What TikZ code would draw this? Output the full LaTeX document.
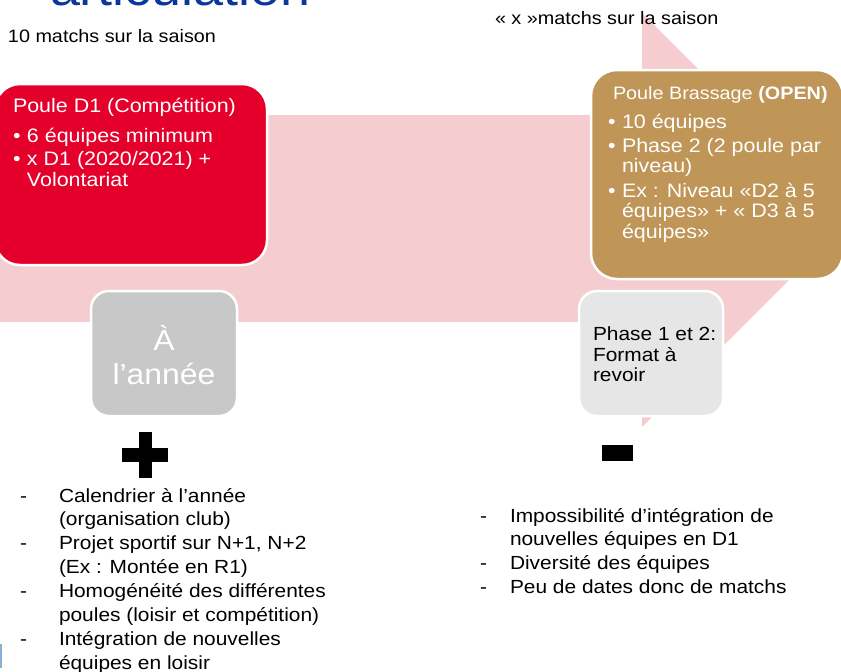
\documentclass[tikz,border=0pt]{standalone}
\usepackage{fontspec}
\setmainfont{Liberation Sans}[FakeStretch=1.1]
\definecolor{arrowpink}{RGB}{245,204,207}
\definecolor{d1red}{RGB}{228,0,43}
\definecolor{openbrown}{RGB}{191,149,88}
\definecolor{anneegray}{RGB}{200,200,200}
\definecolor{phasegray}{RGB}{230,230,230}
\definecolor{titleblue}{RGB}{10,55,155}
\definecolor{logoblue}{RGB}{140,175,210}
\begin{document}
\begin{tikzpicture}[x=1pt,y=-1pt,
  box/.style={draw=white,line width=2.5pt,inner sep=0pt,outer sep=0pt},
  ln/.style={anchor=base west,inner sep=0pt,outer sep=0pt},
  boxtxt/.style={ln,text=white,font=\fontsize{19.5}{23}\selectfont},
  plain/.style={ln,text=black,font=\fontsize{19}{23}\selectfont}]
\useasboundingbox (0,0) rectangle (841,672);
\clip (0,0) rectangle (841,672);
% big pink arrow
\fill[arrowpink] (0,115) -- (642,115) -- (642,13) -- (849,220) -- (642,427) -- (642,322) -- (0,322) -- cycle;
% title (cut off)
\node[ln,text=titleblue,font=\fontsize{49}{49}\selectfont] (title) at (50,5) {articulation};
\node[ln,font=\fontsize{18}{22}\selectfont] (left season) at (8,42) {10 matchs sur la saison};
\node[ln,font=\fontsize{18}{22}\selectfont] (right season) at (495,24) {« x »matchs sur la saison};
% boxes
\node[box,fill=d1red,minimum width=272pt,minimum height=181pt,rounded corners=25pt] (d1) at (131,174.5) {};
\node[box,fill=openbrown,minimum width=252pt,minimum height=209pt,rounded corners=26pt] (open) at (717,174.5) {};
\node[box,fill=anneegray,minimum width=146pt,minimum height=125pt,rounded corners=18pt] (annee) at (164,353.5) {};
\node[box,fill=phasegray,minimum width=144pt,minimum height=125pt,rounded corners=18pt] (phase) at (651,353.5) {};
% red box text
\node[boxtxt] (d1t) at (13,112) {Poule D1 (Compétition)};
\node[boxtxt] (d1b1) at (13,142) {•};
\node[boxtxt] (d1l1) at (27,142) {6 équipes minimum};
\node[boxtxt] (d1b2) at (13,165) {•};
\node[boxtxt] (d1l2) at (27,165) {x D1 (2020/2021) +};
\node[boxtxt] (d1l3) at (27,186) {Volontariat};
% brown box text
\node[boxtxt,font=\fontsize{18}{22}\selectfont] (opt) at (613,99) {Poule Brassage \textbf{(OPEN)}};
\node[boxtxt] (ob1) at (608,128) {•};
\node[boxtxt] (ol1) at (622,128) {10 équipes};
\node[boxtxt] (ob2) at (608,152) {•};
\node[boxtxt] (ol2) at (622,152) {Phase 2 (2 poule par};
\node[boxtxt] (ol3) at (622,172) {niveau)};
\node[boxtxt] (ob3) at (608,197) {•};
\node[boxtxt] (ol4) at (622,197) {Ex : Niveau «D2 à 5};
\node[boxtxt] (ol5) at (622,217) {équipes» + « D3 à 5};
\node[boxtxt] (ol6) at (622,238) {équipes»};
% gray box text
\node[anchor=base,inner sep=0pt,text=white,font=\fontsize{29}{33}\selectfont] (a1) at (164,350) {À};
\node[anchor=base,inner sep=0pt,text=white,font=\fontsize{29}{33}\selectfont] (a2) at (164,384) {l’année};
% phase box text
\node[plain] (p1) at (593,340) {Phase 1 et 2:};
\node[plain] (p2) at (593,361) {Format à};
\node[plain] (p3) at (593,381) {revoir};
% plus and minus
\fill[black] (139,432) rectangle (152,478);
\fill[black] (122,448) rectangle (168,462);
\fill[black] (602,445) rectangle (633,461);
% left list
\node[plain] (ld1) at (20,502) {-};
\node[plain] (lt1) at (59,502) {Calendrier à l’année};
\node[plain] (lt2) at (59,525.5) {(organisation club)};
\node[plain] (ld2) at (20,549) {-};
\node[plain] (lt3) at (59,549) {Projet sportif sur N+1, N+2};
\node[plain] (lt4) at (59,573) {(Ex : Montée en R1)};
\node[plain] (ld3) at (20,597) {-};
\node[plain] (lt5) at (59,597) {Homogénéité des différentes};
\node[plain] (lt6) at (59,621) {poules (loisir et compétition)};
\node[plain] (ld4) at (20,645) {-};
\node[plain] (lt7) at (59,645) {Intégration de nouvelles};
\node[plain] (lt8) at (59,669) {équipes en loisir};
% right list
\node[plain] (rd1) at (480,522) {-};
\node[plain] (rt1) at (510,522) {Impossibilité d’intégration de};
\node[plain] (rt2) at (510,545.5) {nouvelles équipes en D1};
\node[plain] (rd2) at (480,569) {-};
\node[plain] (rt3) at (510,569) {Diversité des équipes};
\node[plain] (rd3) at (480,593) {-};
\node[plain] (rt4) at (510,593) {Peu de dates donc de matchs};
% small cut-off mark at bottom left
\fill[logoblue] (0,644) rectangle (2,668);
\end{tikzpicture}
\end{document}
